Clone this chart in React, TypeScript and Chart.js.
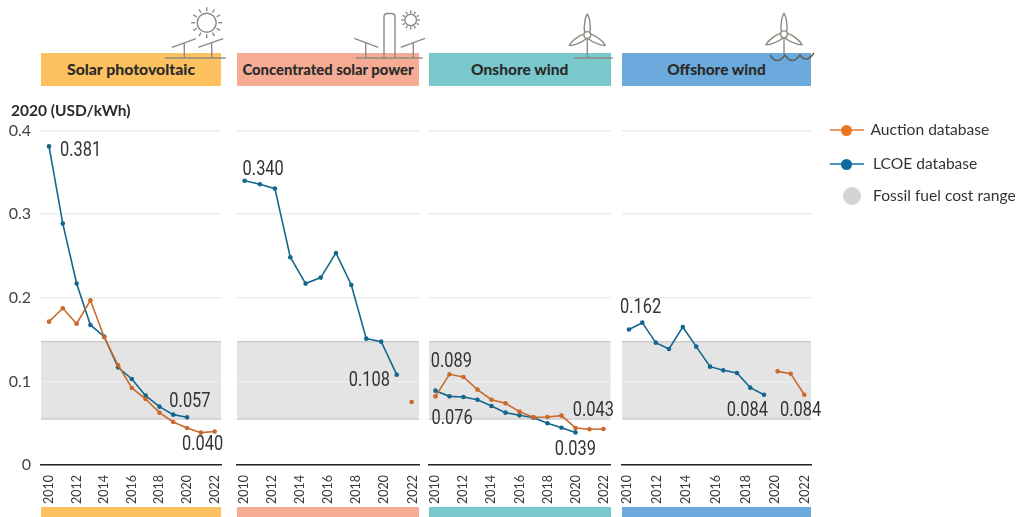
import React, { useEffect, useRef } from "react";
import { Chart, registerables } from "chart.js";

Chart.register(...registerables);

const tickYears = [2010, 2012, 2014, 2016, 2018, 2020, 2022];
const yTicks = [0, 0.1, 0.2, 0.3, 0.4];
const fossilRange = [0.055, 0.1475];

const solarLcoeYears = [2010, 2011, 2012, 2013, 2014, 2015, 2016, 2017, 2018, 2019, 2020];
const solarLcoe = [0.381, 0.2887, 0.217, 0.1675, 0.1535, 0.1168, 0.1029, 0.0829, 0.0698, 0.0602, 0.057];
const solarAuctionYears = [2010, 2011, 2012, 2013, 2014, 2015, 2016, 2017, 2018, 2019, 2020, 2021, 2022];
const solarAuction = [0.1714, 0.1874, 0.169, 0.197, 0.1527, 0.1196, 0.0921, 0.0789, 0.0626, 0.0514, 0.0443, 0.0387, 0.04];

const cspLcoeYears = [2010.08, 2011.17, 2012.23, 2013.32, 2014.41, 2015.48, 2016.56, 2017.65, 2018.71, 2019.77, 2020.87];
const cspLcoe = [0.34, 0.3357, 0.3305, 0.2484, 0.2169, 0.2241, 0.2536, 0.2153, 0.1511, 0.1475, 0.108];
const cspAuctionYears = [2021.93];
const cspAuction = [0.0754];

const onshoreLcoeYears = [2010, 2011, 2012, 2013, 2014, 2015, 2016, 2017, 2018, 2019, 2020];
const onshoreLcoe = [0.0889, 0.0821, 0.0813, 0.0781, 0.0706, 0.0626, 0.0594, 0.0566, 0.0499, 0.0446, 0.039];
const onshoreAuctionYears = [2010, 2011, 2012, 2013, 2014, 2015, 2016, 2017, 2018, 2019, 2020, 2021, 2022];
const onshoreAuction = [0.0821, 0.1085, 0.1053, 0.0901, 0.0781, 0.0738, 0.0638, 0.057, 0.0574, 0.059, 0.0443, 0.0427, 0.043];

const offshoreLcoeYears = [2010.13, 2011.03, 2011.94, 2012.83, 2013.76, 2014.67, 2015.6, 2016.49, 2017.42, 2018.31, 2019.24];
const offshoreLcoe = [0.162, 0.1702, 0.1463, 0.1388, 0.1651, 0.1415, 0.1176, 0.1132, 0.11, 0.0925, 0.084];
const offshoreAuctionYears = [2020.16, 2021.04, 2021.96];
const offshoreAuction = [0.112, 0.1092, 0.084];

const C_AUCTION = "#c96a2b";
const C_LCOE = "#14668f";
const TEXT = "#2b2b2b";
const ICON = "#8e8a80";

type Note = { text: string; s: "auction" | "lcoe"; i: number; dx: number; dy: number };
type Panel = {
  title: string; titleSize: number; color: string; cl: number; cw: number; left: number; right: number;
  min: number; max: number; lcoeX: number[]; lcoe: number[]; aucX: number[]; auc: number[]; notes: Note[];
};

const panels: Panel[] = [
  {
    title: "Solar photovoltaic", titleSize: 15.8, color: "#fdc25f", cl: 0, cw: 232, left: 41, right: 221, min: 2009.42, max: 2022.46,
    lcoeX: solarLcoeYears, lcoe: solarLcoe, aucX: solarAuctionYears, auc: solarAuction,
    notes: [
      { text: "0.381", s: "lcoe", i: 0, dx: 11, dy: 3 },
      { text: "0.057", s: "lcoe", i: 10, dx: -17.7, dy: -16.6 },
      { text: "0.040", s: "auction", i: 12, dx: -32.6, dy: 12.3 },
    ],
  },
  {
    title: "Concentrated solar power", titleSize: 14.8, color: "#f5ab94", cl: 232, cw: 192, left: 237, right: 419, min: 2009.54, max: 2022.45,
    lcoeX: cspLcoeYears, lcoe: cspLcoe, aucX: cspAuctionYears, auc: cspAuction,
    notes: [
      { text: "0.340", s: "lcoe", i: 0, dx: -2, dy: -12.7 },
      { text: "0.108", s: "lcoe", i: 10, dx: -48, dy: 5 },
    ],
  },
  {
    title: "Onshore wind", titleSize: 15.5, color: "#78c8cc", cl: 424, cw: 192, left: 429, right: 610.5, min: 2009.54, max: 2022.5,
    lcoeX: onshoreLcoeYears, lcoe: onshoreLcoe, aucX: onshoreAuctionYears, auc: onshoreAuction,
    notes: [
      { text: "0.089", s: "lcoe", i: 0, dx: -4.7, dy: -30 },
      { text: "0.076", s: "auction", i: 0, dx: -4, dy: 21 },
      { text: "0.043", s: "auction", i: 12, dx: -30.7, dy: -19.7 },
      { text: "0.039", s: "lcoe", i: 10, dx: -20.7, dy: 15.6 },
    ],
  },
  {
    title: "Offshore wind", titleSize: 15.4, color: "#6ca9dc", cl: 616, cw: 210, left: 622, right: 811, min: 2009.66, max: 2022.41,
    lcoeX: offshoreLcoeYears, lcoe: offshoreLcoe, aucX: offshoreAuctionYears, auc: offshoreAuction,
    notes: [
      { text: "0.162", s: "lcoe", i: 0, dx: -9, dy: -23 },
      { text: "0.084", s: "lcoe", i: 10, dx: -37.3, dy: 15 },
      { text: "0.084", s: "auction", i: 2, dx: -24.3, dy: 14.7 },
    ],
  },
];

const bandPlugin = {
  id: "band",
  beforeDraw(chart: any) {
    const { ctx, chartArea: a, scales } = chart;
    const yt = scales.y.getPixelForValue(fossilRange[1]);
    const yb = scales.y.getPixelForValue(fossilRange[0]);
    ctx.save();
    ctx.fillStyle = "#e4e4e4";
    ctx.fillRect(a.left, yt, a.right - a.left, yb - yt);
    ctx.fillStyle = "#cacaca";
    ctx.fillRect(a.left, yt - 0.7, a.right - a.left, 1.4);
    ctx.fillRect(a.left, yb - 0.7, a.right - a.left, 1.4);
    ctx.restore();
  },
};

function notesPlugin(notes: Note[]) {
  return {
    id: "notes",
    afterDatasetsDraw(chart: any) {
      const { ctx } = chart;
      for (const n of notes) {
        const p = chart.getDatasetMeta(n.s === "auction" ? 0 : 1).data[n.i];
        ctx.save();
        ctx.translate(p.x + n.dx, p.y + n.dy + 1.5);
        ctx.scale(0.8, 1);
        ctx.font = "400 20.5px Roboto";
        ctx.fillStyle = "#333333";
        ctx.textAlign = "left";
        ctx.textBaseline = "middle";
        ctx.fillText(n.text, 0, 0);
        ctx.restore();
      }
    },
  };
}

function line(label: string, color: string, xs: number[], ys: number[]) {
  return {
    label, data: xs.map((x, i) => ({ x, y: ys[i] })), borderColor: color, backgroundColor: color,
    borderWidth: 1.6, pointRadius: 2.3, pointBorderWidth: 0, tension: 0, clip: false as const,
  };
}

function PanelChart({ p, first }: { p: Panel; first: boolean }) {
  const ref = useRef<HTMLCanvasElement>(null);
  useEffect(() => {
    const chart = new Chart(ref.current!, {
      type: "line",
      data: { datasets: [line("Auction database", C_AUCTION, p.aucX, p.auc), line("LCOE database", C_LCOE, p.lcoeX, p.lcoe)] },
      plugins: [bandPlugin, notesPlugin(p.notes)],
      options: {
        responsive: false, animation: false, events: [],
        layout: { padding: { top: 130.5, bottom: 12, left: 0, right: p.cl + p.cw - p.right } },
        plugins: { legend: { display: false }, tooltip: { enabled: false } },
        scales: {
          x: {
            type: "linear", min: p.min, max: p.max,
            afterBuildTicks: (s: any) => { s.ticks = tickYears.map((value) => ({ value })); },
            afterFit: (s: any) => { s.height = 40; s.paddingLeft = 0; s.paddingRight = 0; },
            grid: { display: false },
            border: { color: "#222222", width: 1.5 },
            ticks: {
              autoSkip: false, minRotation: 90, maxRotation: 90, padding: 2,
              color: "#3a3a3a", font: { family: "Lato", size: 12.5 },
              callback: (v: any) => String(v),
            },
          },
          y: {
            min: 0, max: 0.4,
            afterBuildTicks: (s: any) => { s.ticks = yTicks.map((value) => ({ value })); },
            afterFit: (s: any) => { s.width = p.left - p.cl; },
            grid: { color: "#ebebeb", lineWidth: 1.6, drawTicks: false },
            border: { display: false },
            ticks: {
              display: first, padding: 10, color: "#444444", font: { family: "Lato", size: 16 },
              callback: (v: any) => (v === 0 ? "0" : Number(v).toFixed(1)),
            },
          },
        },
      },
    } as any);
    return () => chart.destroy();
  }, []);
  return <canvas ref={ref} width={p.cw} height={517} style={{ position: "absolute", left: p.cl, top: 0, width: p.cw, height: 517 }} />;
}

const blade = "M-2.6,-2.8 C-4.2,-9 -1.6,-19 0,-20.7 C1.6,-19 4.2,-9 2.6,-2.8";

function Turbine({ x, y, base }: { x: number; y: number; base: number }) {
  return (
    <g>
      <line x1={x} y1={y + 3.3} x2={x} y2={base} />
      <circle cx={x} cy={y} r={3.4} />
      {[0, 120, 240].map((r) => (
        <path key={r} d={blade} transform={`translate(${x} ${y}) rotate(${r})`} />
      ))}
    </g>
  );
}

function Sun({ x, y, r, r1, r2 }: { x: number; y: number; r: number; r1: number; r2: number }) {
  return (
    <g>
      <circle cx={x} cy={y} r={r} />
      {Array.from({ length: 12 }, (_, i) => i * 30).map((a) => {
        const t = (a * Math.PI) / 180;
        return <line key={a} x1={x + r1 * Math.cos(t)} y1={y + r1 * Math.sin(t)} x2={x + r2 * Math.cos(t)} y2={y + r2 * Math.sin(t)} />;
      })}
    </g>
  );
}

function Icons() {
  return (
    <svg width={1017} height={517} style={{ position: "absolute", left: 0, top: 0, pointerEvents: "none" }}>
      <g fill="none" stroke={ICON} strokeWidth={1.4}>
        <Sun x={206.7} y={22.7} r={9.5} r1={11.5} r2={15.5} />
        <path d="M172,47.3L196,38.7M198.3,47.3L223.3,38.7M184.3,43V58M211.7,43V58M165,58H225.7" />
        <Sun x={410.7} y={20} r={5.8} r1={6.8} r2={9.4} />
        <path d="M384,58V17Q384,13.5 387.5,13.5H391.5Q395,13.5 395,17V58" />
        <path d="M354.3,38.3L378.3,47.3M400.7,47.3L425,38.3M365.7,43V58M413.3,43V58M356,58H422.7" />
        <Turbine x={587.3} y={35} base={58} />
        <path d="M574,58H612.7" />
        <Turbine x={784} y={34.3} base={55} />
        <path stroke="#5b5b58" d="M770,55Q777,66 785,55Q792,66 800,55Q806,64 814,53" />
      </g>
    </svg>
  );
}

const labelFont: React.CSSProperties = { position: "absolute", fontFamily: "Lato", whiteSpace: "nowrap", lineHeight: 1 };

function Legend() {
  const row = (y: number, lineC: string, dot: string, text: string, tx: number) => (
    <React.Fragment key={text}>
      <div style={{ position: "absolute", left: 830, top: y - 1, width: 34, height: 2, background: lineC }} />
      <div style={{ position: "absolute", left: 841, top: y - 5.5, width: 11, height: 11, borderRadius: "50%", background: dot }} />
      <div style={{ ...labelFont, left: tx, top: y - 8, fontSize: 15.6, color: "#333" }}>{text}</div>
    </React.Fragment>
  );
  return (
    <>
      {row(130, "#e79a68", "#ee7623", "Auction database", 870.5)}
      {row(164, "#4b93ba", "#0f6ca3", "LCOE database", 873)}
      <div style={{ position: "absolute", left: 842.5, top: 187, width: 18, height: 18, borderRadius: "50%", background: "#d4d4d4" }} />
      <div style={{ ...labelFont, left: 873, top: 188, fontSize: 15.6, color: "#333" }}>Fossil fuel cost range</div>
    </>
  );
}

export default function App() {
  return (
    <div style={{ position: "absolute", left: 0, top: 0, width: 1017, height: 517, overflow: "hidden", background: "#fff" }}>
      {panels.map((p) => (
        <React.Fragment key={p.title}>
          <div style={{ position: "absolute", left: p.left, top: 53, width: p.right - p.left, height: 33, paddingBottom: 2, boxSizing: "border-box", background: p.color, display: "flex", alignItems: "center", justifyContent: "center" }}>
            <span style={{ fontFamily: "Lato", fontWeight: 900, fontSize: p.titleSize, color: TEXT, whiteSpace: "nowrap" }}>{p.title}</span>
          </div>
          <div style={{ position: "absolute", left: p.left, top: 507, width: p.right - p.left, height: 10, background: p.color }} />
        </React.Fragment>
      ))}
      {panels.map((p, i) => <PanelChart key={p.title} p={p} first={i === 0} />)}
      <Icons />
      <div style={{ ...labelFont, left: 11, top: 103, fontWeight: 700, fontSize: 15.5, color: TEXT }}>2020 (USD/kWh)</div>
      <Legend />
    </div>
  );
}
